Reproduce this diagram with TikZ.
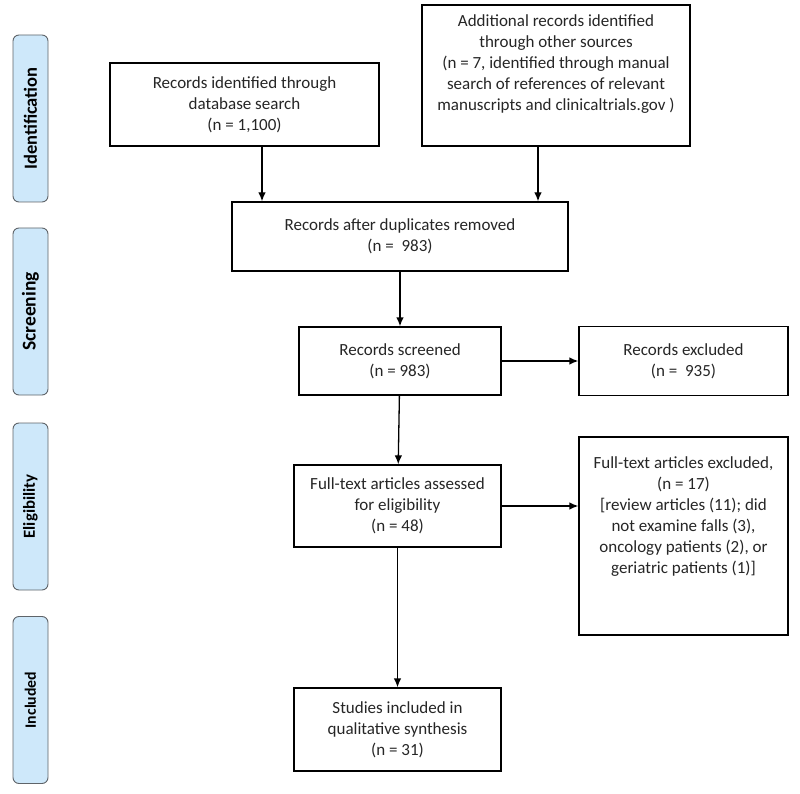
\documentclass[tikz,border=0pt]{standalone}
\usepackage{fontspec}
\setmainfont{Carlito}
\usepackage{tikz}
\usetikzlibrary{positioning,shapes,arrows,arrows.meta}
\definecolor{phaseblue}{RGB}{206,232,250}
\definecolor{phaseedge}{RGB}{95,100,105}
\tikzstyle{box} = [draw=black, fill=white, rectangle, align=center, inner sep=2pt, text=black!85, font=\fontsize{17pt}{21pt}\selectfont]
\tikzstyle{phase} = [draw=phaseedge, fill=phaseblue, rectangle, rounded corners=6pt, rotate=90, line width=0.9pt, minimum width=167pt, minimum height=35pt, font=\bfseries\fontsize{18.5pt}{20pt}\selectfont]

\begin{document}
\begin{tikzpicture}[->,>={Latex[length=9pt,width=7.5pt]},x=1pt,y=1pt,line width=1.3pt]
		\useasboundingbox (0,0) rectangle (800,-794);
		% phases on the left
		\node (pident) [phase] at (30.5,-118.5) {Identification};
		\node (pscreen) [phase, font=\bfseries\fontsize{19.5pt}{20pt}\selectfont] at (30.5,-311.5) {Screening};
		\node (pelig) [phase, font=\bfseries\fontsize{16.8pt}{18pt}\selectfont] at (30.5,-506.5) {Eligibility};
		\node (pincl) [phase, font=\bfseries\fontsize{15.8pt}{18pt}\selectfont] at (30.5,-700) {Included};

		% flow
		\node (db) [box, minimum width=269pt, minimum height=83pt] at (244.5,-104.5) {Records identified through\\database search\\(n = 1,100)};
		\node (other) [box, minimum width=268pt, minimum height=141pt] at (556,-75.5) {Additional records identified\\through other sources\\(n = 7, identified through manual\\search of references of relevant\\manuscripts and clinicaltrials.gov )\\[4pt]~};
		\node (dup) [box, minimum width=336pt, minimum height=69pt] at (400,-236.5) {Records after duplicates removed\\(n =\ \ 983)};
		\node (scr) [box, below of=dup, node distance=124.5pt, minimum width=202pt, minimum height=68pt] {Records screened\\(n = 983)};
		\node (excl) [box, right of=scr, node distance=283.5pt, minimum width=209pt, minimum height=69pt] {Records excluded\\(n =\ \ 935)};
		\node (full) [box, below of=scr, node distance=145pt, xshift=-2.5pt, minimum width=207pt, minimum height=82pt] {Full-text articles assessed\\for eligibility\\(n = 48)};
		\node (fexcl) [box, right of=full, node distance=286pt, yshift=-30pt, minimum width=209pt, minimum height=198pt] {Full-text articles excluded,\\(n = 17)\\{[}review articles (11); did\\not examine falls (3),\\oncology patients (2), or\\geriatric patients (1)]\\~\\~};
		\node (incl) [box, below of=full, node distance=223.5pt, minimum width=207pt, minimum height=83pt] {Studies included in\\qualitative synthesis\\(n = 31)};

		\draw ([xshift=17.5pt]db.south) -- ([xshift=17.5pt]db.south |- dup.north);
		\draw ([xshift=-18pt]other.south) -- ([xshift=-18pt]other.south |- dup.north);
		\draw (dup) -- (scr);
		\draw (scr) -- (excl);
		\draw (scr) -- (full);
		\draw (full.east) -- (full.east -| fexcl.west);
		\draw (full) -- (incl);
	\end{tikzpicture}
\end{document}
